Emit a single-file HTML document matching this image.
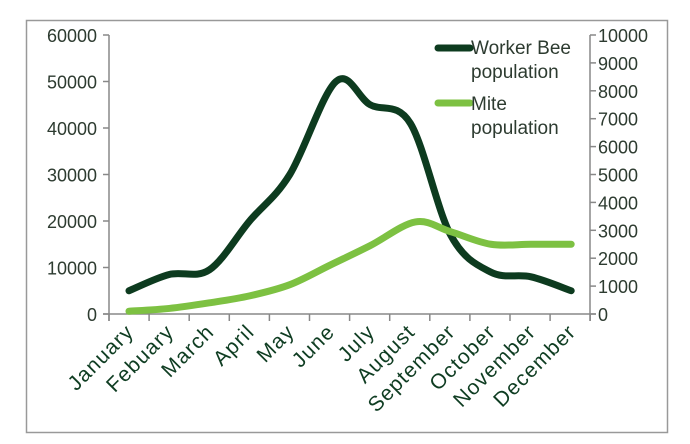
<!DOCTYPE html>
<html><head><meta charset="utf-8"><style>
html,body{margin:0;padding:0;background:#fff;}
svg{display:block;font-family:"Liberation Sans","DejaVu Sans",sans-serif;}
</style></head><body>
<svg id="s" width="690" height="444" viewBox="0 0 690 444">
<rect x="26.5" y="20.5" width="641" height="412" fill="#fff" stroke="#999" stroke-width="1.5"/>
<g stroke="#888" stroke-width="1.5" fill="none">
<line x1="109" y1="35" x2="109" y2="321"/>
<line x1="590" y1="35" x2="590" y2="321"/>
<line x1="103" y1="314" x2="596" y2="314"/>
</g>
<g id="ticks" stroke="#888" stroke-width="1.5"></g>
<g id="lab" font-size="18" fill="#2d3b30"></g>
<g id="xl" font-size="21" fill="#0f3d22" letter-spacing="1.2"></g>
<path id="w" fill="none" stroke="#0d3b1f" stroke-width="7" stroke-linecap="round" stroke-linejoin="round"/>
<path id="m" fill="none" stroke="#7dc142" stroke-width="7" stroke-linecap="round" stroke-linejoin="round"/>
<line x1="438" y1="48" x2="470" y2="48" stroke="#0d3b1f" stroke-width="7" stroke-linecap="round"/>
<line x1="438" y1="103" x2="470" y2="103" stroke="#7dc142" stroke-width="7" stroke-linecap="round"/>
<g font-size="19" fill="#2d3b30">
<text x="471" y="54">Worker Bee</text>
<text x="471" y="78">population</text>
<text x="471" y="110">Mite</text>
<text x="471" y="134">population</text>
</g>
</svg>
<script>
var ns="http://www.w3.org/2000/svg";
function el(p,t,a,txt){var e=document.createElementNS(ns,t);for(var k in a)e.setAttribute(k,a[k]);if(txt!==undefined)e.textContent=txt;document.getElementById(p).appendChild(e);}
var y0=314,h=279;
for(var i=0;i<=6;i++){var y=y0-h*i/6;el("ticks","line",{x1:103,y1:y,x2:109,y2:y});el("lab","text",{x:97,y:y+7,"text-anchor":"end"},String(i*10000));}
for(var i=0;i<=10;i++){var y=y0-h*i/10;el("ticks","line",{x1:590,y1:y,x2:596,y2:y});el("lab","text",{x:598,y:y+7},String(i*1000));}
var months=["January","Febuary","March","April","May","June","July","August","September","October","November","December"];
var xs=[];for(var i=0;i<12;i++)xs.push(129+i*40.2);
for(var i=0;i<=12;i++){var x=109+i*40.1;el("ticks","line",{x1:x,y1:314,x2:x,y2:321});}
months.forEach(function(m,i){var x=xs[i]+6,y=333;el("xl","text",{x:x,y:y,"text-anchor":"end",transform:"rotate(-45 "+x+" "+y+")"},m);});
function path(pts){var d="M"+pts[0][0]+","+pts[0][1];for(var i=0;i<pts.length-1;i++){var p0=pts[i-1]||pts[i],p1=pts[i],p2=pts[i+1],p3=pts[i+2]||p2;var t=6;d+=" C"+(p1[0]+(p2[0]-p0[0])/t)+","+(p1[1]+(p2[1]-p0[1])/t)+" "+(p2[0]-(p3[0]-p1[0])/t)+","+(p2[1]-(p3[1]-p1[1])/t)+" "+p2[0]+","+p2[1];}return d;}
var w=[5000,8500,9500,20000,30000,50000,45000,41000,17000,9000,8000,5000];
var wp=w.map(function(v,i){return[xs[i],y0-v*h/60000];});
wp[5][0]+=6;
document.getElementById("w").setAttribute("d",path(wp));
var mt=[100,200,400,650,1050,1750,2450,3300,2950,2500,2500,2500];
var mp=mt.map(function(v,i){return[xs[i],y0-v*h/10000];});
mp[7][0]+=5;
document.getElementById("m").setAttribute("d",path(mp));
</script>
</body></html>
